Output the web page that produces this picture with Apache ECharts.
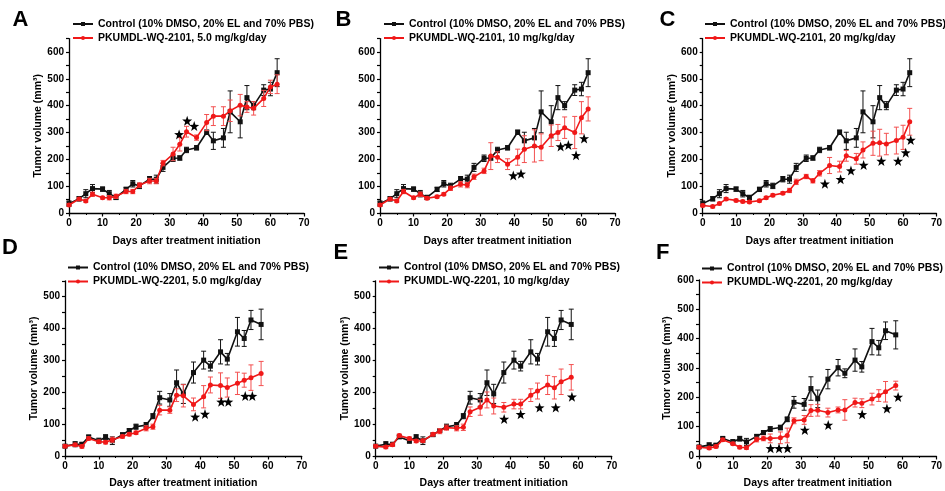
<!DOCTYPE html>
<html><head><meta charset="utf-8">
<script src="https://cdn.jsdelivr.net/npm/echarts@6/dist/echarts.min.js"></script>
<style>html,body{margin:0;padding:0;background:#fff}#c{width:945px;height:491px}</style>
</head><body><div id="c"></div>
<script>
const ctrlName = 'Control (10% DMSO, 20% EL and 70% PBS)';
const drugNames = ['PKUMDL-WQ-2101, 5.0 mg/kg/day','PKUMDL-WQ-2101, 10 mg/kg/day','PKUMDL-WQ-2101, 20 mg/kg/day',
                   'PKUMDL-WQ-2201, 5.0 mg/kg/day','PKUMDL-WQ-2201, 10 mg/kg/day','PKUMDL-WQ-2201, 20 mg/kg/day'];
const panelLetters = ['A','B','C','D','E','F'];

const daysTop = [0,3,5,7,10,12,14,17,19,21,24,26,28,31,33,35,38,41,43,46,48,51,53,55,58,60,62];
const ctrlTop = [35,53,72,91,89,72,58,88,109,101,126,126,170,204,205,235,243,301,269,280,377,340,430,400,458,462,523];
const ctrlTopErr = [10,8,15,15,8,12,8,8,12,10,10,15,15,12,8,10,8,8,32,35,78,60,45,15,20,25,52];
const redA = [30,52,45,70,57,57,62,80,80,104,119,119,186,220,256,303,281,337,361,361,381,402,395,390,427,470,480];
const redAErr = [5,5,5,8,5,8,8,8,8,8,10,10,10,25,25,20,10,30,35,35,40,40,20,25,30,25,35];
const redB = [30,52,45,80,57,70,55,61,70,92,107,104,135,157,212,208,182,208,238,250,245,288,300,318,300,355,388];
const redBErr = [5,5,5,8,5,8,5,5,5,8,10,10,10,10,50,20,20,30,50,60,50,40,30,40,60,60,45];
const redC = [28,24,35,52,47,43,41,46,57,66,74,84,116,136,120,148,177,173,213,202,235,260,262,257,270,282,340];
const redCErr = [5,5,5,5,5,5,5,5,5,5,5,8,10,8,8,10,30,20,20,20,30,45,50,40,50,45,50];

const daysBot = [0,3,5,7,10,12,14,17,19,21,24,26,28,31,33,35,38,41,43,46,48,51,53,55,58];
const ctrlBot = [31,37,37,60,48,59,48,67,80,92,97,125,183,176,230,195,262,301,282,327,304,390,369,427,413];
const ctrlBotErr = [5,8,5,5,8,8,12,5,5,8,8,8,20,20,40,30,33,28,15,38,18,45,25,30,48];
const redD = [31,35,30,55,45,43,51,61,68,73,87,92,144,144,191,189,162,186,223,221,215,228,238,246,259];
const redDErr = [5,5,5,5,5,5,8,5,5,5,8,8,15,10,20,35,20,35,25,40,30,35,22,40,38];
const redE = [31,28,35,64,55,47,48,68,78,89,87,90,139,153,176,157,153,163,163,191,204,223,214,233,247];
const redEErr = [5,5,5,5,5,5,5,5,8,8,8,10,15,25,25,25,15,15,15,20,25,30,35,40,40];
const redF = [30,27,32,55,42,30,28,56,60,60,62,70,120,123,155,156,148,157,157,182,180,194,206,219,240];
const redFErr = [5,5,5,5,5,5,5,8,8,15,20,25,10,15,20,20,15,10,35,15,15,20,20,35,15];

const starsA = [[32.8,293],[35.2,344],[37.3,324]];
const starsB = [[39.7,140],[42.0,146],[53.8,248],[56.1,253],[58.4,215],[60.8,278]];
const starsC = [[36.6,109],[41.3,126],[44.4,158],[48.2,179],[53.5,194],[58.5,194],[60.8,225],[62.3,272]];
const starsD = [[38.5,123],[41.4,132],[46.2,170],[48.3,170],[53.3,188],[55.4,188]];
const starsE = [[38.1,116],[43.0,131],[48.6,152],[53.4,152],[58.2,186]];
const starsF = [[21.1,26],[23.6,26],[26.1,26],[31.2,89],[38.1,106],[48.1,142],[55.4,162],[58.7,201]];

const FONT = "'Liberation Sans', Arial, sans-serif";
const BLACK = '#111', RED = '#f01818', REDERR = '#f35050';

const panels = [
  {days:daysTop, ctrl:ctrlTop, ctrlErr:ctrlTopErr, red:redA, redErr:redAErr, stars:starsA,
   grid:{left:69, top:38.6, width:235, height:174.4}, ymax:650, ylab:600, yname:true, nameGapY:25, nameGapX:23,
   legend:{left:72, top:17.5}, letter:[20.5,20]},
  {days:daysTop, ctrl:ctrlTop, ctrlErr:ctrlTopErr, red:redB, redErr:redBErr, stars:starsB,
   grid:{left:380, top:38.6, width:235, height:174.4}, ymax:650, ylab:600, yname:false, nameGapY:25, nameGapX:23,
   legend:{left:383, top:17.5}, letter:[343.5,20]},
  {days:daysTop, ctrl:ctrlTop, ctrlErr:ctrlTopErr, red:redC, redErr:redCErr, stars:starsC,
   grid:{left:702.7, top:38.6, width:234, height:174.4}, ymax:650, ylab:600, yname:true, nameGapY:24.7, nameGapX:23,
   legend:{left:704, top:17.5}, letter:[667.5,20]},
  {days:daysBot, ctrl:ctrlBot, ctrlErr:ctrlBotErr, red:redD, redErr:redDErr, stars:starsD,
   grid:{left:65, top:280.8, width:236.7, height:175.2}, ymax:550, ylab:500, yname:true, nameGapY:24, nameGapX:21.5,
   legend:{left:67, top:261}, letter:[10,248]},
  {days:daysBot, ctrl:ctrlBot, ctrlErr:ctrlBotErr, red:redE, redErr:redEErr, stars:starsE,
   grid:{left:375.7, top:280.8, width:236, height:175.2}, ymax:550, ylab:500, yname:true, nameGapY:24.5, nameGapX:21.5,
   legend:{left:378, top:261}, letter:[341.5,253]},
  {days:daysBot, ctrl:ctrlBot, ctrlErr:ctrlBotErr, red:redF, redErr:redFErr, stars:starsF,
   grid:{left:699, top:280, width:237.7, height:176}, ymax:600, ylab:600, yname:true, nameGapY:26, nameGapX:21.5,
   legend:{left:701, top:262}, letter:[664,252.5]}
];

const STAR = 'path://M0,-10 L2.35,-3.24 L9.51,-3.09 L3.8,1.24 L5.88,8.09 L0,4 L-5.88,8.09 L-3.8,1.24 L-9.51,-3.09 L-2.35,-3.24Z';

function errSeries(i, days, vals, errs, color, z) {
  return {
    type:'custom', xAxisIndex:i, yAxisIndex:i, z:z, silent:true,
    data: days.map((d,j)=>[d, vals[j]-errs[j], vals[j]+errs[j]]),
    encode:{x:0, y:[1,2]},
    renderItem:(params, api)=>{
      const x = api.value(0);
      const lo = api.coord([x, api.value(1)]);
      const hi = api.coord([x, api.value(2)]);
      const w = 2.5;
      const st = {stroke:color, lineWidth:1};
      return {type:'group', children:[
        {type:'line', shape:{x1:lo[0], y1:lo[1], x2:hi[0], y2:hi[1]}, style:st},
        {type:'line', shape:{x1:lo[0]-w, y1:lo[1], x2:lo[0]+w, y2:lo[1]}, style:st},
        {type:'line', shape:{x1:hi[0]-w, y1:hi[1], x2:hi[0]+w, y2:hi[1]}, style:st}
      ]};
    }
  };
}

const axisText = {fontSize:10, fontWeight:'bold', fontFamily:FONT, color:'#000'};
const option = {
  animation:false,
  backgroundColor:'#fff',
  grid: panels.map(p=>p.grid),
  xAxis: panels.map((p,i)=>({
    type:'value', gridIndex:i, min:0, max:70, interval:10,
    name:'Days after treatment initiation', nameLocation:'middle', nameGap:p.nameGapX,
    nameTextStyle:{fontSize:10.5, fontWeight:'bold', fontFamily:FONT, color:'#000'},
    axisLine:{lineStyle:{color:'#000', width:1.3}},
    axisTick:{length:3.5, lineStyle:{color:'#000', width:1.2}},
    minorTick:{show:true, splitNumber:2, length:2, lineStyle:{color:'#000', width:1}},
    axisLabel:Object.assign({margin:5}, axisText),
    splitLine:{show:false}
  })),
  yAxis: panels.map((p,i)=>({
    type:'value', gridIndex:i, min:0, max:p.ymax, interval:50,
    name: p.yname ? 'Tumor volume (mm³)' : '', nameLocation:'middle', nameGap:p.nameGapY, nameRotate:90,
    nameTextStyle:{fontSize:10.5, fontWeight:'bold', fontFamily:FONT, color:'#000'},
    axisLine:{show:true, lineStyle:{color:'#000', width:1.3}},
    axisTick:{show:true, length:3, lineStyle:{color:'#000', width:1.2}},
    axisLabel:Object.assign({margin:5, formatter:v=>(v%100===0 && v<=p.ylab)? String(v):''}, axisText),
    splitLine:{show:false}
  })),
  legend: panels.map((p,i)=>({
    data:[ctrlName, drugNames[i]], left:p.legend.left, top:p.legend.top, orient:'vertical',
    itemWidth:20, itemHeight:5, itemGap:1, padding:0, selectedMode:false,
    textStyle:{fontSize:10.5, fontWeight:'bold', fontFamily:FONT, color:'#000', lineHeight:13}
  })),
  graphic: panels.map((p,i)=>({
    type:'text', left:p.letter[0]-8, top:p.letter[1]-11, silent:true,
    style:{text:panelLetters[i], font:"bold 22px "+FONT, fill:'#000'}
  })),
  series: []
};

panels.forEach((p,i)=>{
  option.series.push(errSeries(i, p.days, p.ctrl, p.ctrlErr, BLACK, 2));
  option.series.push({
    type:'line', name:ctrlName, xAxisIndex:i, yAxisIndex:i, z:3,
    data:p.days.map((d,j)=>[d,p.ctrl[j]]),
    symbol:'rect', symbolSize:5, showSymbol:true,
    lineStyle:{color:BLACK, width:1.6}, itemStyle:{color:BLACK}
  });
  option.series.push(errSeries(i, p.days, p.red, p.redErr, REDERR, 4));
  option.series.push({
    type:'line', name:drugNames[i], xAxisIndex:i, yAxisIndex:i, z:5,
    data:p.days.map((d,j)=>[d,p.red[j]]),
    symbol:'circle', symbolSize:5, showSymbol:true,
    lineStyle:{color:RED, width:1.6}, itemStyle:{color:RED}
  });
  option.series.push({
    type:'scatter', name:'stars'+i, xAxisIndex:i, yAxisIndex:i, z:6,
    data:p.stars, symbol:STAR, symbolSize:10, itemStyle:{color:'#000', opacity:1}
  });
});

const chart = echarts.init(document.getElementById('c'), null, {renderer:'canvas'});
chart.setOption(option);
</script></body></html>
